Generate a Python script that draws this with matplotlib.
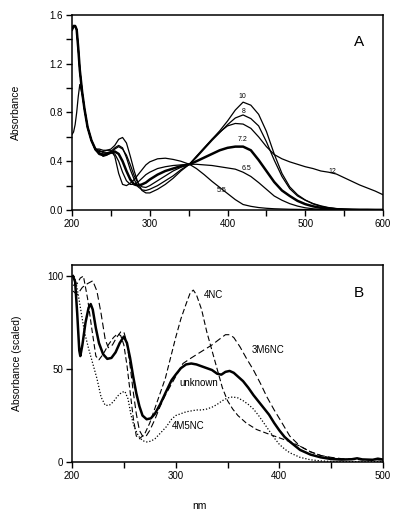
import matplotlib
matplotlib.use("Agg")
import matplotlib.pyplot as plt

plt.rcParams['font.family'] = ['Liberation Sans', 'DejaVu Sans']

# ---------------- Panel A data (absorbance vs nm at several pH) ----------------
wl_A = [200, 202, 204, 206, 208, 210, 213, 216, 220, 225, 230, 235, 240, 245, 250,
        255, 260, 265, 270, 275, 280, 285, 290, 295, 300, 310, 320, 330, 340, 351,
        360, 370, 380, 390, 400, 410, 420, 430, 440, 450, 460, 470, 480, 490, 500,
        510, 520, 530, 540, 550, 560, 570, 580, 590, 600]

bundle_start = [1.48, 1.51, 1.51, 1.48, 1.33, 1.15, 0.97, 0.83, 0.68, 0.57, 0.50]

ph55 = bundle_start + [0.48, 0.48, 0.49, 0.49, 0.44, 0.30, 0.21, 0.20, 0.22, 0.25, 0.29,
        0.33, 0.37, 0.395, 0.42, 0.425, 0.415, 0.40, 0.375, 0.34, 0.29, 0.235, 0.185,
        0.135, 0.085, 0.045, 0.03, 0.02, 0.014, 0.01, 0.008, 0.006, 0.005, 0.004,
        0.003, 0.003, 0.002, 0.002, 0.002, 0.001, 0.001, 0.001, 0.001, 0.001]
ph65 = bundle_start + [0.47, 0.46, 0.46, 0.47, 0.46, 0.40, 0.31, 0.24, 0.21, 0.21, 0.23,
        0.26, 0.29, 0.31, 0.34, 0.355, 0.365, 0.37, 0.375, 0.375, 0.37, 0.365, 0.355,
        0.345, 0.335, 0.31, 0.275, 0.225, 0.17, 0.115, 0.08, 0.052, 0.032, 0.018,
        0.01, 0.006, 0.004, 0.003, 0.002, 0.002, 0.001, 0.001, 0.001, 0.001]
ph72 = bundle_start + [0.46, 0.45, 0.46, 0.47, 0.48, 0.46, 0.40, 0.32, 0.25, 0.21, 0.20,
        0.21, 0.225, 0.25, 0.29, 0.32, 0.34, 0.36, 0.375, 0.40, 0.43, 0.46, 0.49,
        0.51, 0.52, 0.52, 0.49, 0.41, 0.32, 0.23, 0.16, 0.115, 0.075, 0.048,
        0.03, 0.018, 0.01, 0.006, 0.004, 0.003, 0.002, 0.002, 0.001, 0.001]
ph8 = bundle_start + [0.49, 0.47, 0.47, 0.48, 0.51, 0.53, 0.51, 0.43, 0.33, 0.25, 0.19,
        0.165, 0.16, 0.17, 0.20, 0.24, 0.28, 0.33, 0.375, 0.43, 0.50, 0.57, 0.635,
        0.70, 0.755, 0.78, 0.75, 0.69, 0.56, 0.41, 0.275, 0.175, 0.115, 0.08,
        0.053, 0.034, 0.02, 0.012, 0.007, 0.004, 0.003, 0.002, 0.002, 0.001]
ph10 = bundle_start + [0.50, 0.49, 0.49, 0.50, 0.53, 0.58, 0.595, 0.55, 0.44, 0.32, 0.22,
        0.16, 0.14, 0.14, 0.17, 0.21, 0.26, 0.32, 0.375, 0.44, 0.51, 0.58, 0.65,
        0.73, 0.82, 0.885, 0.86, 0.785, 0.645, 0.46, 0.30, 0.19, 0.125, 0.082,
        0.05, 0.03, 0.017, 0.01, 0.005, 0.003, 0.002, 0.001, 0.001, 0.001]
ph12 = [0.62, 0.64, 0.70, 0.80, 0.93, 1.03, 0.95, 0.83, 0.68, 0.57, 0.49,
        0.47, 0.44, 0.45, 0.47, 0.50, 0.52, 0.50, 0.45, 0.37, 0.28, 0.22,
        0.19, 0.185, 0.20, 0.24, 0.28, 0.32, 0.35, 0.375, 0.44, 0.51, 0.58, 0.64,
        0.69, 0.71, 0.705, 0.67, 0.60, 0.52, 0.455, 0.42, 0.395, 0.375, 0.355,
        0.34, 0.32, 0.31, 0.295, 0.265, 0.235, 0.205, 0.18, 0.155, 0.125]

labels_A = ["10", "8", "7.2", "6.5", "5.5", "12"]
label_pos_A = [(419, 0.93), (421, 0.81), (419, 0.575), (424, 0.343), (393, 0.16), (535, 0.316)]

# ---------------- Panel B data (scaled absorbance) ----------------
wl_unknown = [201, 203, 205, 207, 208, 210, 213, 216, 218, 220, 223, 226, 230, 234, 238,
              242, 246, 250, 253, 256, 259, 262, 265, 268, 272, 276, 280, 285, 290, 296,
              300, 305, 310, 315, 320, 325, 330, 335, 340, 344, 348, 352, 356, 360, 365,
              370, 375, 380, 385, 390, 395, 400, 405, 410, 420, 430, 440, 450, 460, 470,
              475, 480, 490, 495, 500]
unknown = [100, 97, 80, 60, 57, 63, 75, 83, 85, 82, 72, 64, 58, 55.5, 56,
           59, 64, 67.5, 64, 56, 46, 37, 30, 25, 23, 23.5, 26, 31, 37, 44,
           47, 50.5, 52.5, 53, 52.5, 51.5, 50.5, 49.5, 47.5, 47, 48.5, 49, 48, 46, 43.5,
           40, 36, 32.5, 29, 25.5, 21, 17, 13.5, 11, 6.5, 4, 2.5, 1.6, 1.3, 1.5,
           2.0, 1.4, 1.2, 1.8, 1.3]

wl_4nc = [201, 205, 208, 211, 215, 219, 223, 226, 230, 235, 240, 244, 247, 250, 253,
          256, 259, 262, 265, 270, 275, 280, 285, 290, 295, 300, 305, 310, 314, 317,
          320, 325, 330, 335, 340, 345, 350, 355, 360, 368, 378, 388, 400, 410, 420,
          430, 440, 450, 460, 480, 500]
nc4 = [95, 96, 99, 100, 88, 72, 57, 55, 58, 63, 67, 69, 68, 63, 52,
       38, 24, 14, 12.5, 15, 21, 29, 37, 45, 56, 67, 77, 85, 91, 92.5,
       90, 82, 70, 60, 50, 40, 33, 28.5, 25, 21, 17.5, 15.4, 13, 11, 8.5,
       5.5, 3.5, 2.2, 1.5, 1.2, 1.2]

wl_3m6nc = [201, 205, 210, 215, 220, 224, 228, 232, 235, 239, 243, 247, 250, 253, 256,
            259, 262, 265, 268, 271, 275, 280, 285, 290, 295, 300, 307, 315, 325, 335,
            342, 348, 352, 356, 362, 368, 375, 382, 388, 395, 401, 410, 420, 430, 440,
            450, 460, 470, 480, 500]
m3nc6 = [92, 90, 94, 96, 97.5, 92, 80, 66, 61.5, 63, 67, 70, 70, 64, 52,
         38, 26, 17, 14, 13.5, 17, 23, 30, 36, 41, 46, 53, 56, 59.5, 63,
         66, 68.5, 68.5, 67, 62, 56, 49.5, 42, 35, 28, 22.5, 14, 8.5, 5.5, 3.5,
         2.5, 1.8, 1.5, 1.3, 1.2]

wl_4m5nc = [202, 204, 206, 209, 212, 216, 220, 224, 228, 232, 236, 240, 244, 248, 251,
            254, 257, 260, 264, 268, 272, 276, 280, 286, 291, 296, 300, 305, 310, 315,
            320, 325, 330, 335, 340, 345, 350, 355, 360, 365, 370, 375, 380, 385, 390,
            395, 400, 405, 410, 420, 430, 440, 450, 460, 480, 500]
m4nc5 = [100, 96, 90, 80, 70, 61, 53, 45, 35, 30.5, 30.5, 32.5, 35.5, 37.5, 38,
         34, 25, 19, 14, 11.5, 10.8, 11.2, 12.5, 16, 19, 23, 25, 26, 27, 27.5,
         28, 28, 28.5, 29.5, 31, 33, 34.5, 35, 34.5, 33, 31, 28.5, 25, 21, 17,
         13, 9.5, 7, 5, 2.5, 1.2, 0.6, 0.3, 0.2, 0.2, 0.3]

labels_B = ["4NC", "3M6NC", "unknown", "4M5NC"]
label_pos_B = [(336, 90), (389, 60), (322, 42.5), (312, 19.5)]

# ---------------- Figure ----------------
fig = plt.figure(figsize=(4.01, 5.19), dpi=100)
axA = fig.add_axes([0.1796, 0.5954, 0.7756, 0.3757])
axB = fig.add_axes([0.1796, 0.1098, 0.7756, 0.3796])

thin = 0.9
for ys in (ph55, ph65, ph8, ph10, ph12):
    axA.plot(wl_A, ys, color='black', lw=thin)
axA.plot(wl_A, ph72, color='black', lw=1.8)
for t, (x, y) in zip(labels_A, label_pos_A):
    axA.text(x, y, t, fontsize=5, ha='center', va='center')

axA.set_xlim(200, 600)
axA.set_ylim(0, 1.6)
axA.set_xticks([200, 300, 400, 500, 600])
axA.set_xticks([250, 350, 450, 550], minor=True)
axA.set_yticks([0.0, 0.4, 0.8, 1.2, 1.6])
axA.set_yticks([0.2, 0.6, 1.0, 1.4], minor=True)
axA.set_yticklabels(["0.0", "0.4", "0.8", "1.2", "1.6"])
axA.set_ylabel("Absorbance", fontsize=7.5)
axA.yaxis.set_label_coords(-0.165, 0.5)
axA.text(0.94, 0.86, "A", transform=axA.transAxes, fontsize=11, ha='right', va='center')

axB.plot(wl_4nc, nc4, color='black', lw=0.8, linestyle=(0, (5, 2.5)))
axB.plot(wl_3m6nc, m3nc6, color='black', lw=0.8, linestyle=(0, (6, 3)))
axB.plot(wl_4m5nc, m4nc5, color='black', lw=0.9, linestyle=(0, (1, 1.5)))
axB.plot(wl_unknown, unknown, color='black', lw=1.8)
for t, (x, y) in zip(labels_B, label_pos_B):
    axB.text(x, y, t, fontsize=7, ha='center', va='center')

axB.set_xlim(200, 500)
axB.set_ylim(0, 106)
axB.set_xticks([200, 300, 400, 500])
axB.set_xticks([250, 350, 450], minor=True)
axB.set_yticks([0, 50, 100])
axB.set_ylabel("Absorbance (scaled)", fontsize=7.5)
axB.yaxis.set_label_coords(-0.16, 0.5)
axB.set_xlabel("nm", fontsize=7.5)
axB.xaxis.set_label_coords(0.41, -0.2)
axB.text(0.94, 0.86, "B", transform=axB.transAxes, fontsize=11, ha='right', va='center')

for ax in (axA, axB):
    for s in ax.spines.values():
        s.set_linewidth(1.1)
    ax.tick_params(which='both', direction='out', width=1.0, labelsize=7, pad=2,
                   top=False, right=False)
    ax.tick_params(which='major', length=4.5)
    ax.tick_params(which='minor', length=4.5)

fig.savefig("out.png", dpi=100)
